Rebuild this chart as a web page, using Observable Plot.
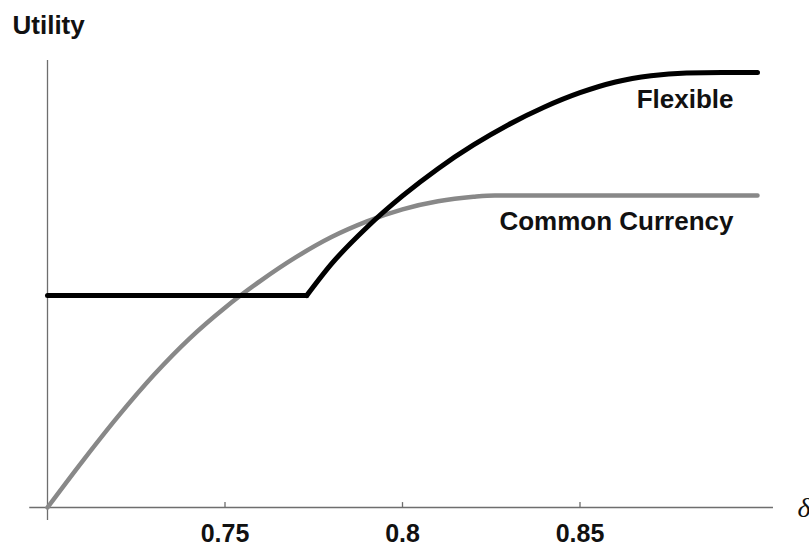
<!DOCTYPE html>
<html>
<head>
<meta charset="utf-8">
<script src="https://cdn.jsdelivr.net/npm/d3@7"></script>
<script src="https://cdn.jsdelivr.net/npm/@observablehq/plot@0.6"></script>
<style>
  html, body { margin: 0; padding: 0; background: #fff; }
  #chart svg { display: block; }
</style>
</head>
<body>
<div id="chart"></div>
<script>
// ---- data ----
const xTicks = [0.75, 0.8, 0.85];
const xDomain = [0.7, 0.9];
const yDomain = [0, 1];
const xAxisExtent = [0.695, 0.9045];
const yAxisExtent = [-0.029, 1];

const commonX = [0.700, 0.710, 0.720, 0.730, 0.740, 0.750, 0.760, 0.770, 0.780, 0.790, 0.800, 0.810, 0.820, 0.826, 0.900];
const commonU = [0.000, 0.105, 0.205, 0.297, 0.378, 0.447, 0.507, 0.560, 0.605, 0.640, 0.667, 0.685, 0.695, 0.698, 0.698];

const flexFlatX = [0.700, 0.773];
const flexFlatU = [0.474, 0.474];
const flexRiseX = [0.773, 0.780, 0.790, 0.800, 0.810, 0.820, 0.830, 0.840, 0.850, 0.860, 0.870, 0.880, 0.890, 0.900];
const flexRiseU = [0.474, 0.545, 0.627, 0.697, 0.758, 0.811, 0.857, 0.896, 0.928, 0.952, 0.966, 0.972, 0.973, 0.973];

const seriesLabels = ["Flexible", "Common Currency"];
const yTitle = "Utility";
const xTitle = "δ";

// ---- tables ----
const toRows = (xs, us) => xs.map((x, i) => ({x, u: us[i]}));
const common = toRows(commonX, commonU);
const flexFlat = toRows(flexFlatX, flexFlatU);
const flexRise = toRows(flexRiseX, flexRiseU);
const labels = [
  {text: seriesLabels[0], x: flexRiseX[flexRiseX.length - 1], u: flexRiseU[flexRiseU.length - 1]},
  {text: seriesLabels[1], x: commonX[commonX.length - 1], u: commonU[commonU.length - 1]}
];

const sans = "'Liberation Sans', Arial, Helvetica, sans-serif";
const axisColor = "#6e6e6e";

const chart = Plot.plot({
  width: 809,
  height: 545,
  marginLeft: 47,
  marginRight: 52,
  marginTop: 60,
  marginBottom: 38,
  x: {domain: xDomain, axis: null},
  y: {domain: yDomain, axis: null},
  style: {fontFamily: sans, background: "#fff"},
  marks: [
    // axes
    Plot.ruleY([yDomain[0]], {x1: xAxisExtent[0], x2: xAxisExtent[1], stroke: axisColor, strokeWidth: 1.3}),
    Plot.ruleX([xDomain[0]], {y1: yAxisExtent[0], y2: yAxisExtent[1], stroke: axisColor, strokeWidth: 1.3}),
    Plot.ruleX(xTicks, {y1: yDomain[0], y2: 0.011, stroke: axisColor, strokeWidth: 1.3}),
    Plot.text(xTicks, {x: d => d, y: yDomain[0], text: d => String(d), dy: 34, lineAnchor: "bottom",
      fontSize: 25, fontWeight: "bold", fill: "#111"}),
    Plot.text([yTitle], {frameAnchor: "top-left", dx: -35, dy: -27, lineAnchor: "bottom", textAnchor: "start",
      fontSize: 26, fontWeight: "bold", fill: "#111"}),
    Plot.text([xTitle], {x: xAxisExtent[1], y: yDomain[0], dx: 24, dy: 9, lineAnchor: "bottom", textAnchor: "start",
      fontSize: 28, fontStyle: "italic", fontFamily: "'Liberation Serif', 'Times New Roman', serif", fill: "#111"}),
    // curves
    Plot.line(common, {x: "x", y: "u", curve: "monotone-x", stroke: "#888888", strokeWidth: 4.5, strokeLinecap: "round"}),
    Plot.line(flexFlat, {x: "x", y: "u", stroke: "#000", strokeWidth: 5, strokeLinecap: "round"}),
    Plot.line(flexRise, {x: "x", y: "u", curve: "monotone-x", stroke: "#000", strokeWidth: 5, strokeLinecap: "round"}),
    // series labels
    Plot.text(labels, {x: "x", y: "u", text: "text", dx: -24, dy: 35, lineAnchor: "bottom", textAnchor: "end",
      fontSize: 26, fontWeight: "bold", fill: "#111"})
  ]
});

document.getElementById("chart").appendChild(chart);
</script>
</body>
</html>
